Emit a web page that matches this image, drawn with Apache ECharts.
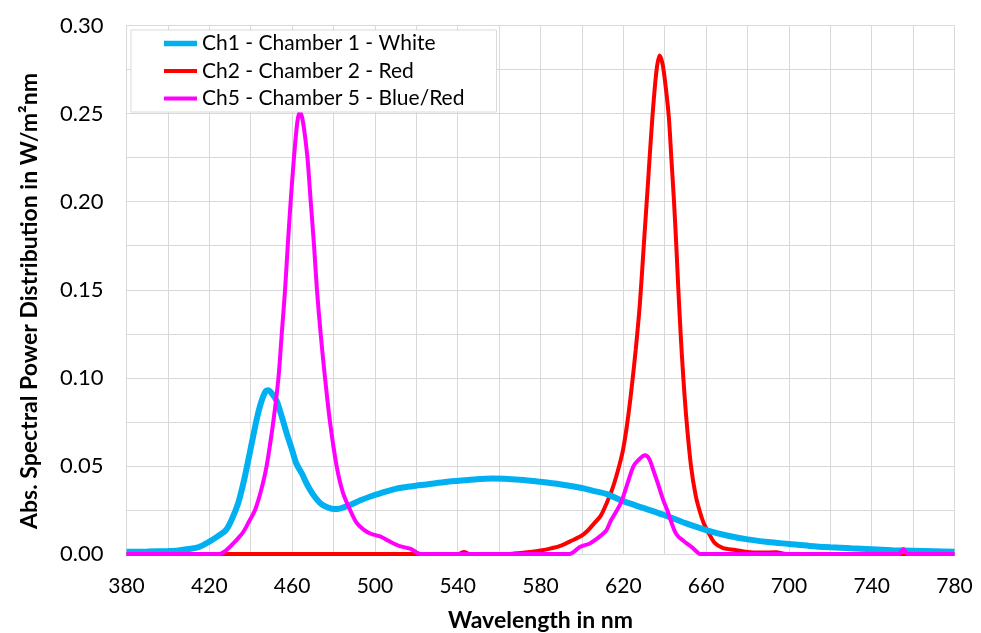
<!DOCTYPE html>
<html>
<head>
<meta charset="utf-8">
<script src="https://cdn.jsdelivr.net/npm/echarts@6/dist/echarts.min.js"></script>
<style>
html,body{margin:0;padding:0;background:#fff;}
#chart{width:981px;height:633px;}
</style>
</head>
<body>
<div id="chart"></div>
<script>
// ---- data ----
const seriesNames = ['Ch1 - Chamber 1 - White', 'Ch2 - Chamber 2 - Red', 'Ch5 - Chamber 5 - Blue/Red'];

const ch1Wavelength = [380,390,400,405,410,415,420,424,428,431,434,437,440,443,445,447,448.5,450,452.5,455,457.5,460,462,465,467,470,473.5,477,480,483,488,493,497.5,502.5,510,518,525,535,545,557,570,580,590,600,605,612,620,630,640,650,660,670,680,690,700,710,720,730,740,750,760,770,780];
const ch1Value = [0.0013,0.0014,0.0017,0.0020,0.0028,0.0040,0.0070,0.0100,0.0135,0.0200,0.0290,0.0430,0.0600,0.0770,0.0860,0.0920,0.0930,0.0915,0.0870,0.0780,0.0680,0.0590,0.0515,0.0450,0.0400,0.0340,0.0290,0.0265,0.0255,0.0258,0.0278,0.0305,0.0325,0.0344,0.0370,0.0385,0.0395,0.0410,0.0420,0.0429,0.0422,0.0410,0.0395,0.0375,0.0360,0.0340,0.0300,0.0260,0.0220,0.0175,0.0136,0.0105,0.0083,0.0068,0.0057,0.0046,0.0038,0.0032,0.0027,0.0022,0.0019,0.0016,0.0013];

const ch2Wavelength = [380,420,540,543,546,565,570,575,580,585,590,595,600,603,606,609,612,615,618,620,622,624,626,628,630,632,634,636,637.5,639,640.5,642,643.2,644.5,645.6,646.6,647.7,649,650.6,652.7,655,657,659,661,664,668,674,680,686,694,697,700,780];
const ch2Value = [0,0,0,0.0012,0,0,0.0006,0.0012,0.0020,0.0032,0.0048,0.0075,0.0105,0.0135,0.0175,0.0215,0.0290,0.0380,0.0500,0.0600,0.0750,0.0940,0.1160,0.1420,0.1770,0.2120,0.2470,0.2740,0.2830,0.2780,0.2650,0.2480,0.2250,0.2000,0.1750,0.1500,0.1250,0.1000,0.0750,0.0500,0.0330,0.0240,0.0170,0.0125,0.0065,0.0035,0.0023,0.0012,0.0008,0.0010,0.0003,0,0];

const ch5Wavelength = [380,425,428,431.6,434,436.4,439,442.1,445,447.7,450.9,453.4,455,456.6,457.9,459.3,460.9,462.5,463.8,465.3,467.4,469,470.6,472,473.8,475.9,478.3,481.5,484.5,488,491,494.4,498,502.5,507.3,512,517,520,522,594,599,603.8,607,609.5,611.9,614,616.5,619.1,622,624.8,627,630.5,632.5,634.5,637,639.3,641.5,643.4,645,646.6,648.5,650.6,653,655.5,657,753,755.3,757.5,780];
const ch5Value = [0,0,0.0020,0.0060,0.0090,0.0125,0.0180,0.0250,0.0360,0.0500,0.0750,0.1000,0.1250,0.1500,0.1750,0.2000,0.2250,0.2450,0.2510,0.2450,0.2250,0.2000,0.1750,0.1500,0.1250,0.1000,0.0750,0.0500,0.0350,0.0250,0.0180,0.0140,0.0115,0.0100,0.0070,0.0045,0.0030,0.0010,0,0,0.0040,0.0060,0.0085,0.0108,0.0136,0.0190,0.0240,0.0297,0.0400,0.0495,0.0530,0.0560,0.0540,0.0476,0.0390,0.0306,0.0240,0.0174,0.0125,0.0098,0.0080,0.0060,0.0040,0.0013,0,0,0.0028,0,0];

const xTickLabels = [380,420,460,500,540,580,620,660,700,740,780];
const yTickLabels = ['0.00','0.05','0.10','0.15','0.20','0.25','0.30'];
const xTitle = 'Wavelength in nm';
const yTitle = 'Abs. Spectral Power Distribution in W/m²nm';

const colors = {ch1:'#00B0F0', ch2:'#FF0000', ch5:'#FF00FF'};
const FONT = 'Lato';

function pairs(xs, ys){ return xs.map((x,i)=>[x, ys[i]]); }
// legend icon: a horizontal bar of given thickness inside a 35x20 box
function barIcon(h){
  const t = (20 - h) / 2;
  return 'path://M0,0L0.01,0M0,' + t + 'H35V' + (t + h) + 'H0ZM0,20L0.01,20';
}

const chart = echarts.init(document.getElementById('chart'), null, {renderer:'canvas'});
const gridColor = '#d9d9d9';

chart.setOption({
  animation:false,
  backgroundColor:'#ffffff',
  textStyle:{fontFamily:FONT},
  grid:{left:126.5, right:26.5, top:25.5, bottom:79, containLabel:false, outerBoundsMode:'none'},
  legend:{
    data:[
      {name:seriesNames[0], icon:barIcon(6)},
      {name:seriesNames[1], icon:barIcon(4)},
      {name:seriesNames[2], icon:barIcon(4)}
    ],
    orient:'vertical',
    left:131, top:30,
    padding:[3,32,3,33],
    itemWidth:33, itemHeight:20, itemGap:6.5,
    backgroundColor:'#ffffff',
    borderColor:'#d9d9d9', borderWidth:1,
    textStyle:{fontFamily:FONT, fontSize:21, lineHeight:20, color:'#000'}
  },
  xAxis:{
    type:'value', min:380, max:780, interval:40,
    axisLine:{show:true, lineStyle:{color:gridColor}},
    axisTick:{show:false},
    splitLine:{show:true, lineStyle:{color:gridColor, width:1}},
    minorTick:{show:false, splitNumber:2},
    minorSplitLine:{show:true, lineStyle:{color:gridColor, width:1}},
    axisLabel:{
      margin:22, fontFamily:FONT, fontSize:21, color:'#000',
      formatter:function(v){ return xTickLabels.indexOf(v) >= 0 ? String(v) : ''; }
    },
    name:xTitle, nameLocation:'middle', nameGap:55,
    nameTextStyle:{fontFamily:FONT, fontSize:23, fontWeight:'bold', color:'#000'}
  },
  yAxis:{
    type:'value', min:0, max:0.30, interval:0.05,
    axisLine:{show:true, lineStyle:{color:gridColor}},
    axisTick:{show:false},
    splitLine:{show:true, lineStyle:{color:gridColor, width:1}},
    minorTick:{show:false, splitNumber:2},
    minorSplitLine:{show:true, lineStyle:{color:gridColor, width:1}},
    axisLabel:{
      margin:23, fontFamily:FONT, fontSize:22, color:'#000',
      formatter:function(v){ const i = Math.round(v/0.05); return yTickLabels[i] !== undefined ? yTickLabels[i] : ''; }
    }
  },
  graphic:[{
    type:'text', x:30, y:301, rotation:Math.PI/2,
    style:{text:yTitle, fill:'#000', font:'bold 23px ' + FONT, textAlign:'center', textVerticalAlign:'middle'}
  }],
  series:[
    {name:seriesNames[1], type:'line', data:pairs(ch2Wavelength, ch2Value), showSymbol:false, symbol:'none', smooth:0.3,
     lineStyle:{color:colors.ch2, width:4}, itemStyle:{color:colors.ch2}},
    {name:seriesNames[0], type:'line', data:pairs(ch1Wavelength, ch1Value), showSymbol:false, symbol:'none', smooth:0.3,
     lineStyle:{color:colors.ch1, width:6}, itemStyle:{color:colors.ch1}},
    {name:seriesNames[2], type:'line', data:pairs(ch5Wavelength, ch5Value), showSymbol:false, symbol:'none', smooth:0.3,
     lineStyle:{color:colors.ch5, width:4}, itemStyle:{color:colors.ch5}}
  ]
});
</script>
</body>
</html>
